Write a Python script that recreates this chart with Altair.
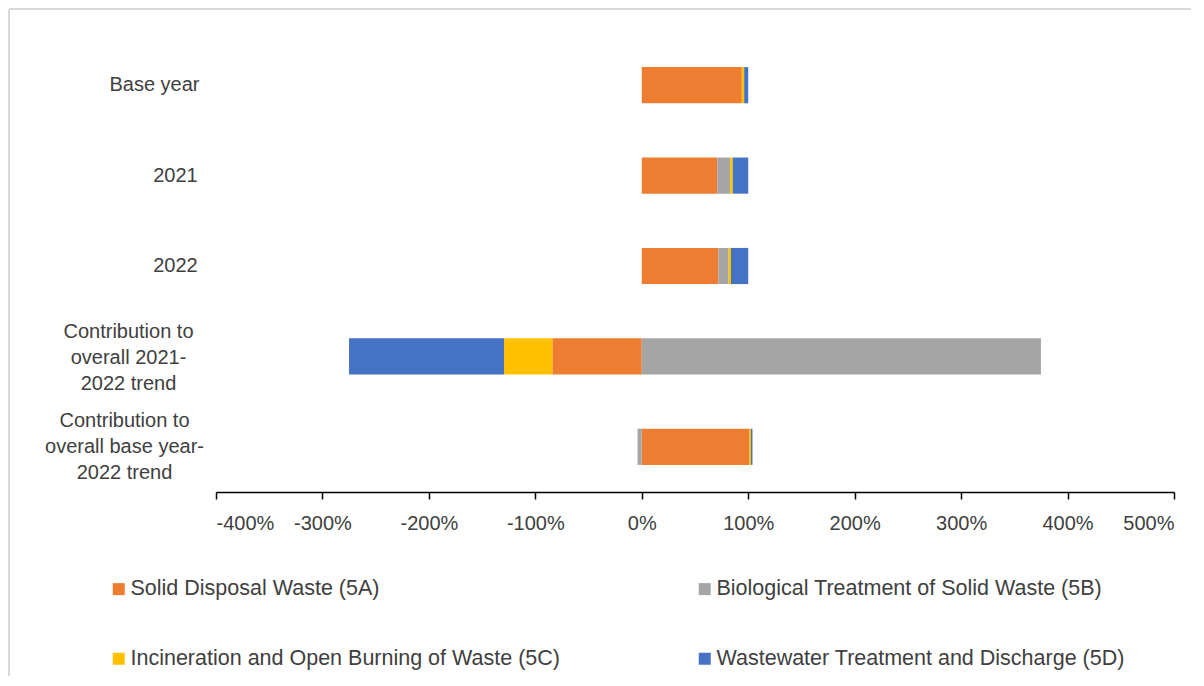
import altair as alt
import pandas as pd

categories = [
    "Base year",
    "2021",
    "2022",
    "Contribution to\noverall 2021-\n2022 trend",
    "Contribution to\noverall base year-\n2022 trend",
]
series = [
    "Solid Disposal Waste (5A)",
    "Biological Treatment of Solid Waste (5B)",
    "Incineration and Open Burning of Waste (5C)",
    "Wastewater Treatment and Discharge (5D)",
]
solid_disposal = [0.94, 0.71, 0.72, -0.84, 1.01]
biological = [0.0, 0.12, 0.095, 3.75, -0.04]
incineration = [0.022, 0.025, 0.023, -0.454, 0.016]
wastewater = [0.038, 0.145, 0.162, -1.456, 0.014]
colors = ["#ED7D31", "#A5A5A5", "#FFC000", "#4472C4"]
x_ticks = [-4, -3, -2, -1, 0, 1, 2, 3, 4, 5]

rows = []
for si, (name, vals) in enumerate(zip(series, [solid_disposal, biological, incineration, wastewater])):
    for cat, v in zip(categories, vals):
        rows.append({"category": cat, "series": name, "order": si, "value": v})
df = pd.DataFrame(rows)

FONT = "Liberation Sans"
TEXT = "#404040"

pad_cond = [
    {"test": "datum.value == 'Base year'", "value": 62},
    {"test": "indexof(datum.value, '2021-') >= 0", "value": 88},
    {"test": "indexof(datum.value, 'base year-') >= 0", "value": 92},
]
offset_cond = [
    {"test": "indexof(datum.value, '2021-') >= 0", "value": -24},
    {"test": "indexof(datum.value, 'base year-') >= 0", "value": -26},
]

bars = alt.Chart(df).mark_bar().encode(
    x=alt.X(
        "value:Q",
        stack="zero",
        scale=alt.Scale(domain=[-4, 5], nice=False, zero=False),
        axis=alt.Axis(
            values=x_ticks,
            labelExpr="toString(round(datum.value * 100)) + '%'",
            title=None,
            grid=False,
            domainColor="#000000",
            domainWidth=1.5,
            tickColor="#000000",
            tickWidth=1.5,
            tickSize=7,
            labelPadding=14,
            labelFont=FONT,
            labelFontSize=20,
            labelColor=TEXT,
        ),
    ),
    y=alt.Y(
        "category:N",
        sort=categories,
        scale=alt.Scale(paddingInner=0.6, paddingOuter=0.3),
        axis=alt.Axis(
            title=None,
            domain=False,
            ticks=False,
            tickSize=0,
            grid=False,
            labelExpr="split(datum.label, '\\n')",
            labelAlign="center",
            labelBaseline="middle",
            labelPadding={"condition": pad_cond, "value": 41},
            labelOffset={"condition": offset_cond, "value": 0},
            labelFont=FONT,
            labelFontSize=20,
            labelLineHeight=26,
            labelColor=TEXT,
            labelLimit=400,
            minExtent=200,
            maxExtent=200,
        ),
    ),
    color=alt.Color(
        "series:N",
        sort=series,
        scale=alt.Scale(domain=series, range=colors),
        legend=alt.Legend(
            title=None,
            orient="none",
            legendX=-108,
            legendY=538,
            direction="horizontal",
            columns=2,
            columnPadding=134,
            rowPadding=47,
            symbolType="square",
            symbolSize=144,
            symbolStrokeWidth=0,
            labelOffset=1,
            labelFont=FONT,
            labelFontSize=21.5,
            labelColor=TEXT,
            labelLimit=600,
        ),
    ),
    order=alt.Order("order:Q"),
)

frame_data = pd.DataFrame({"k": [0]})
top_edge = alt.Chart(frame_data).mark_rule(color="#D9D9D9", strokeWidth=2).encode(
    x=alt.value(-207),
    x2=alt.value(975),
    y=alt.value(-31),
)
left_edge = alt.Chart(frame_data).mark_rule(color="#D9D9D9", strokeWidth=2).encode(
    x=alt.value(-207),
    y=alt.value(-31),
    y2=alt.value(636),
)

chart = alt.layer(top_edge, left_edge, bars).properties(
    width=958,
    height=452,
    padding=0,
    background="white",
).configure_view(strokeWidth=0, stroke="transparent")

chart.save("out.html", embed_options={"renderer": "svg", "actions": False})
